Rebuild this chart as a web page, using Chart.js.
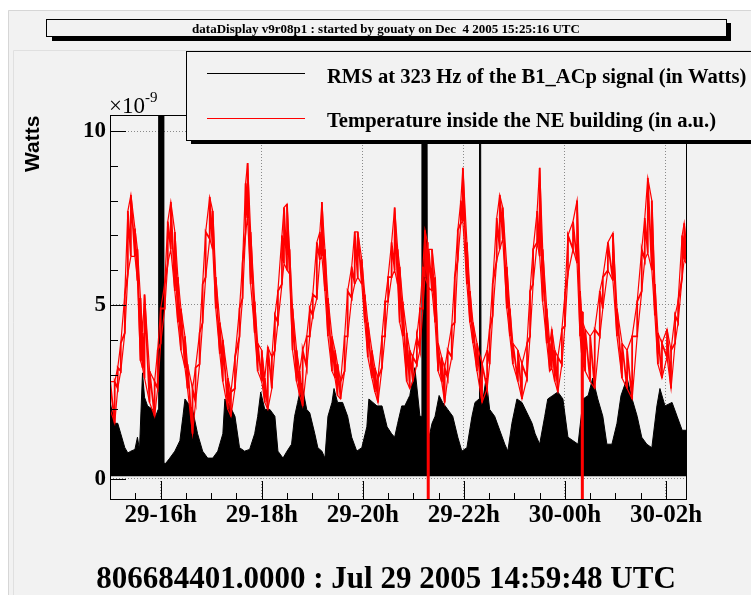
<!DOCTYPE html>
<html><head><meta charset="utf-8">
<script src="https://cdn.jsdelivr.net/npm/chart.js@4.4.1/dist/chart.umd.min.js"></script>
<style>html,body{margin:0;padding:0;background:#fff;overflow:hidden}canvas{display:block}</style>
</head><body>
<canvas id="c" width="751" height="595" style="width:751px;height:595px"></canvas>
<script>
// ---- data (hours since Jul 29 2005 00:00 UTC) ----
const titleText = 'dataDisplay v9r08p1 : started by gouaty on Dec  4 2005 15:25:16 UTC';
const footerText = '806684401.0000 : Jul 29 2005 14:59:48 UTC';
const seriesNames = ['RMS at 323 Hz of the B1_ACp signal (in Watts)', 'Temperature inside the NE building (in a.u.)'];
const yAxisTitle = 'Watts';
const tickHours = [16, 18, 20, 22, 24, 26];
const tickLabels = ['29-16h', '29-18h', '29-20h', '29-22h', '30-00h', '30-02h'];
const yLabelValues = [0, 5, 10];
const yTickLabels = ['0', '5', '10'];
const xMin = 14.9967, xMax = 26.396;
const yMin = -0.575, yMax = 10.46;

// Temperature (a.u.) : upper / lower edge of the noisy red trace
const redTime = [15.00,15.09,15.15,15.21,15.29,15.35,15.41,15.49,15.54,15.60,
  15.64,15.68,15.78,15.88,15.94,16.00,16.08,16.14,16.20,16.28,
  16.34,16.40,16.48,16.53,16.63,16.69,16.77,16.83,16.89,16.97,
  17.03,17.09,17.17,17.23,17.33,17.39,17.47,17.56,17.62,17.68,
  17.72,17.78,17.86,17.92,18.00,18.06,18.12,18.20,18.26,18.32,
  18.40,18.44,18.50,18.55,18.61,18.69,18.75,18.81,18.89,18.95,
  19.01,19.09,19.15,19.19,19.25,19.31,19.39,19.45,19.50,19.56,
  19.64,19.70,19.78,19.84,19.90,19.98,20.04,20.10,20.18,20.24,
  20.30,20.38,20.44,20.50,20.57,20.63,20.69,20.73,20.79,20.87,
  20.93,20.99,21.07,21.13,21.19,21.23,21.28,21.285,21.30,21.305,
  21.37,21.43,21.49,21.56,21.62,21.68,21.76,21.82,21.88,21.94,
  21.98,22.06,22.12,22.18,22.26,22.36,22.46,22.51,22.57,22.65,
  22.71,22.77,22.85,22.91,22.97,23.07,23.15,23.25,23.31,23.37,
  23.45,23.50,23.56,23.64,23.70,23.74,23.80,23.86,23.94,24.00,
  24.06,24.16,24.24,24.30,24.33,24.335,24.35,24.355,24.40,24.50,
  24.59,24.69,24.75,24.85,24.95,25.03,25.13,25.23,25.33,25.43,
  25.52,25.58,25.64,25.72,25.78,25.84,25.92,26.02,26.10,26.18,
  26.24,26.32,26.36,26.40];
const redHigh = [2.8,2.8,3.2,3.9,5.3,7.7,8.16,7.2,6.6,5.2,
  4.2,5.3,3.1,2.8,3.7,4.9,5.6,7.4,7.96,7.1,
  5.8,4.9,4.1,3.3,2.6,3.2,4.2,5.6,7.1,8.1,
  7.7,5.8,4.5,4.0,2.9,2.5,3.5,4.9,6.2,8.5,
  9.08,7.1,5.1,3.9,3.7,2.9,3.8,3.5,4.7,5.4,
  7.0,7.8,7.9,6.6,4.9,3.7,3.1,3.7,4.1,4.9,
  5.3,6.8,7.1,7.96,6.6,5.2,4.1,3.7,3.3,2.8,
  4.1,5.4,6.1,7.1,7.1,6.3,5.3,4.5,3.7,3.2,
  2.9,4.1,5.1,5.8,6.8,7.8,6.6,6.1,5.1,4.2,
  3.7,3.5,4.1,4.9,6.1,7.15,6.8,6.6,6.6,6.6,
  6.6,5.8,3.9,3.5,3.2,3.7,4.4,5.8,7.15,8.0,
  8.94,6.8,5.4,4.5,3.9,3.3,3.7,4.3,5.6,7.5,
  8.16,7.8,6.1,4.9,3.9,3.7,3.3,3.9,5.4,6.6,
  7.7,8.94,6.6,4.9,3.9,4.3,3.7,3.5,4.3,5.3,
  7.0,7.4,8.0,5.4,4.8,4.8,4.8,4.5,4.3,4.1,
  4.3,5.4,5.8,6.8,7.07,4.9,3.9,3.7,4.1,5.1,
  6.6,7.5,8.65,8.0,5.6,4.2,3.9,4.3,3.7,4.7,
  5.1,7.0,7.35,6.8];
const redLow = [2.0,1.6,2.6,3.1,4.2,5.9,6.4,6.4,5.7,3.4,
  3.2,2.9,2.2,1.8,2.6,3.9,4.9,6.2,6.6,5.4,
  4.5,3.7,3.2,2.6,1.3,2.2,3.3,4.5,5.8,6.9,
  6.6,4.9,3.6,2.8,2.0,1.8,2.6,4.1,5.2,7.1,
  7.5,5.6,4.2,3.1,2.8,2.2,2.0,2.6,3.7,4.5,
  5.6,6.2,6.0,5.9,3.7,2.8,2.4,2.1,3.2,4.1,
  4.7,5.2,6.3,6.4,5.4,4.1,3.1,2.9,2.4,2.3,
  3.1,4.1,5.2,5.6,5.8,5.6,4.5,3.5,2.9,2.5,
  2.2,3.2,4.1,5.1,5.8,6.0,5.6,4.5,4.1,2.8,
  2.6,2.8,3.3,3.7,4.9,5.8,5.6,-1,-1,5.5,
  5.4,4.5,3.1,2.8,2.2,2.9,3.5,4.5,6.3,7.35,
  7.4,5.6,4.5,3.9,3.1,2.2,2.6,3.3,4.7,6.3,
  6.6,6.9,4.9,4.1,3.3,2.8,2.3,2.9,4.1,5.6,
  6.8,6.4,5.1,3.9,3.1,3.2,2.8,2.5,3.3,4.4,
  5.9,6.6,6.2,4.1,3.6,-1,-1,3.4,3.1,2.8,
  2.6,4.1,4.9,6.0,5.7,4.1,2.9,2.6,2.3,4.1,
  5.4,6.3,6.5,6.0,4.7,3.3,2.9,3.5,2.6,3.9,
  4.5,5.8,6.3,6.2];

// RMS at 323 Hz (1e-9 W) : upper edge of the dense black trace
const rmsTime = [15.00,15.09,15.15,15.21,15.29,15.35,15.41,15.49,15.54,15.58,
  15.64,15.68,15.74,15.84,15.90,15.95,15.96,16.05,16.06,16.10,
  16.18,16.28,16.38,16.44,16.48,16.53,16.63,16.73,16.83,16.93,
  17.03,17.13,17.23,17.27,17.37,17.47,17.56,17.66,17.76,17.86,
  17.92,17.98,18.06,18.16,18.26,18.32,18.42,18.50,18.59,18.65,
  18.71,18.79,18.89,18.95,19.05,19.11,19.19,19.25,19.31,19.39,
  19.43,19.50,19.60,19.70,19.78,19.88,19.98,20.08,20.12,20.20,
  20.28,20.38,20.48,20.57,20.63,20.69,20.77,20.83,20.93,21.03,
  21.13,21.16,21.17,21.27,21.28,21.37,21.43,21.51,21.58,21.68,
  21.78,21.88,21.96,22.06,22.16,22.22,22.30,22.31,22.33,22.34,
  22.38,22.44,22.51,22.61,22.71,22.81,22.87,22.95,23.05,23.15,
  23.25,23.35,23.41,23.50,23.60,23.66,23.76,23.86,23.96,24.06,
  24.16,24.26,24.36,24.46,24.55,24.65,24.75,24.83,24.93,25.03,
  25.11,25.23,25.33,25.43,25.52,25.62,25.72,25.82,25.88,25.98,
  26.12,26.22,26.32,26.40];
const rmsTop = [2.2,1.6,1.6,1.3,0.9,0.75,0.8,0.85,1.2,0.85,
  3.05,2.35,2.1,2.0,1.8,2.0,12,12,0.45,0.45,
  0.6,0.8,1.1,1.8,2.3,2.2,2.0,1.3,0.8,0.6,
  0.6,0.8,1.3,2.3,2.1,1.8,0.9,0.8,0.85,1.3,
  1.8,2.5,2.0,2.0,1.8,0.8,0.6,0.8,1.0,1.8,
  2.2,2.75,2.0,1.9,1.3,0.9,0.8,0.6,1.8,2.2,
  2.6,2.2,2.2,1.8,1.2,0.8,0.9,1.5,2.3,2.2,
  2.1,2.1,1.5,1.3,1.2,1.6,2.1,2.1,2.4,3.2,
  1.8,1.8,12,12,1.0,1.6,1.8,2.4,2.2,2.0,
  1.8,1.2,0.8,0.9,1.8,2.2,2.3,12,12,2.3,
  2.3,2.9,2.0,1.8,1.4,1.0,0.8,1.6,2.3,2.2,
  1.9,1.6,1.3,1.0,1.8,2.3,2.4,2.5,2.3,1.2,
  1.1,1.0,2.3,2.4,2.9,2.3,1.8,1.0,1.0,1.6,
  2.4,2.9,2.3,1.8,1.2,1.0,0.9,2.1,2.6,2.1,
  2.2,1.8,1.4,1.4];
const rmsFloor = 0.08;

// ---- chart ----
const pts = (xs, ys) => xs.map((t, i) => ({x: t, y: ys[i]}));
// noisy trace: at each sample the trace sweeps from its low to its high edge
const noisyTrace = (xs, lo, hi) => xs.flatMap((t, i) => [{x: t, y: lo[i]}, {x: t, y: hi[i]}]);
const serif = '"Liberation Serif", "Times New Roman", serif';
const sans = '"Liberation Sans", Arial, sans-serif';

const rootPlugin = {
  id: 'rootLook',
  beforeDraw(chart) {
    const c = chart.ctx;
    c.save();
    c.fillStyle = '#ffffff'; c.fillRect(0, 0, chart.width, chart.height);
    c.fillStyle = '#f2f2f2'; c.fillRect(8, 10, chart.width - 8, chart.height - 10);
    c.lineWidth = 1;
    c.strokeStyle = '#d6d6d6';
    c.beginPath(); c.moveTo(8.5, chart.height); c.lineTo(8.5, 10.5); c.lineTo(chart.width, 10.5); c.stroke();
    c.strokeStyle = '#e0e0e0';
    c.beginPath(); c.moveTo(13.5, chart.height); c.lineTo(13.5, 50.5); c.lineTo(chart.width, 50.5); c.stroke();
    c.restore();
  },
  afterDatasetsDraw(chart) {
    const c = chart.ctx, a = chart.chartArea, xs = chart.scales.x, ys = chart.scales.y;
    c.save();
    c.strokeStyle = '#000'; c.lineWidth = 1;
    c.strokeRect(a.left + 0.5, a.top + 0.5, a.right - a.left, a.bottom - a.top);
    c.beginPath();
    for (let v = 0; v <= 10; v++) {
      const y = Math.round(ys.getPixelForValue(v)) + 0.5;
      const len = (v % 5 === 0) ? 16 : 8;
      c.moveTo(a.left, y); c.lineTo(a.left + len, y);
    }
    for (let h = 15; h <= xMax; h += 0.5) {
      const x = Math.round(xs.getPixelForValue(h)) + 0.5;
      const len = (h % 2 === 0) ? 18 : 6;
      c.moveTo(x, a.bottom); c.lineTo(x, a.bottom - len);
    }
    c.stroke();

    // legend box
    c.fillStyle = '#000';
    c.fillRect(191, 141, chart.width - 191, 3);
    c.fillStyle = '#f2f2f2';
    c.fillRect(186, 51, chart.width - 186 + 10, 89);
    c.strokeStyle = '#000';
    c.strokeRect(186.5, 51.5, chart.width, 89);
    c.beginPath(); c.strokeStyle = '#000'; c.moveTo(207, 73.5); c.lineTo(305, 73.5); c.stroke();
    c.beginPath(); c.strokeStyle = '#ff0000'; c.moveTo(207, 118.5); c.lineTo(305, 118.5); c.stroke();
    c.fillStyle = '#000';
    c.font = 'bold 20.6px ' + serif;
    c.textAlign = 'left'; c.textBaseline = 'alphabetic';
    c.fillText(seriesNames[0], 327, 83);
    c.fillText(seriesNames[1], 327, 127);

    // exponent
    c.font = '23px ' + serif;
    c.fillText('\u00d710', 109, 113);
    const w = c.measureText('\u00d710').width;
    c.font = '15px ' + serif;
    c.fillText('-9', 109 + w, 102);

    // y title
    c.save();
    c.translate(39, 172); c.rotate(-Math.PI / 2);
    c.font = 'bold 21px ' + sans;
    c.fillText(yAxisTitle, 0, 0);
    c.restore();

    // title box
    c.fillStyle = '#000';
    c.fillRect(52, 37, 679, 4);
    c.fillRect(727, 23, 4, 18);
    c.fillStyle = '#f2f2f2';
    c.fillRect(46, 19, 681, 18);
    c.strokeStyle = '#000';
    c.strokeRect(46.5, 19.5, 680, 17);
    c.fillStyle = '#000';
    c.font = 'bold 13px ' + serif;
    c.textAlign = 'center';
    c.fillText(titleText, 386, 33);

    // footer
    c.font = 'bold 31px ' + serif;
    c.fillText(footerText, 386, 588);
    c.restore();
  }
};

const gridOpts = {color: '#8a8a8a', lineWidth: 1, drawTicks: false};
const redLine = {borderColor: '#ff0000', pointRadius: 0, fill: false, tension: 0};

new Chart(document.getElementById('c'), {
  type: 'line',
  data: {
    datasets: [
      Object.assign({label: seriesNames[1], data: noisyTrace(redTime, redLow, redHigh), borderWidth: 1.8}, redLine),
      Object.assign({label: seriesNames[1] + ' (upper edge)', data: pts(redTime, redHigh), borderWidth: 1.2}, redLine),
      Object.assign({label: seriesNames[1] + ' (lower edge)', data: pts(redTime, redLow), borderWidth: 1.2}, redLine),
      {label: seriesNames[0], data: pts(rmsTime, rmsTop), borderColor: '#000000', backgroundColor: '#000000',
       borderWidth: 1, pointRadius: 0, fill: {value: rmsFloor}, tension: 0}
    ]
  },
  options: {
    responsive: false,
    devicePixelRatio: 1,
    animation: false,
    layout: {padding: {left: 0, top: 115, right: 65, bottom: 56}},
    plugins: {legend: {display: false}, tooltip: {enabled: false}, title: {display: false}},
    scales: {
      x: {
        type: 'linear', min: xMin, max: xMax,
        afterBuildTicks(s) { s.ticks = tickHours.map(v => ({value: v})); },
        afterFit(s) { s.height = 40; },
        grid: gridOpts,
        border: {display: false, dash: [1, 2]},
        ticks: {autoSkip: false, maxRotation: 0, minRotation: 0, padding: 2, color: '#000',
          font: {family: serif, size: 25, weight: 'bold'},
          callback(v, i) { return tickLabels[i]; }}
      },
      y: {
        type: 'linear', min: yMin, max: yMax,
        afterBuildTicks(s) { s.ticks = yLabelValues.map(v => ({value: v})); },
        afterFit(s) { s.width = 110; },
        grid: gridOpts,
        border: {display: false, dash: [1, 2]},
        ticks: {padding: 4, color: '#000',
          font: {family: serif, size: 23, weight: 'bold'},
          callback(v, i) { return yTickLabels[i]; }}
      }
    }
  },
  plugins: [rootPlugin]
});
</script>
</body></html>
